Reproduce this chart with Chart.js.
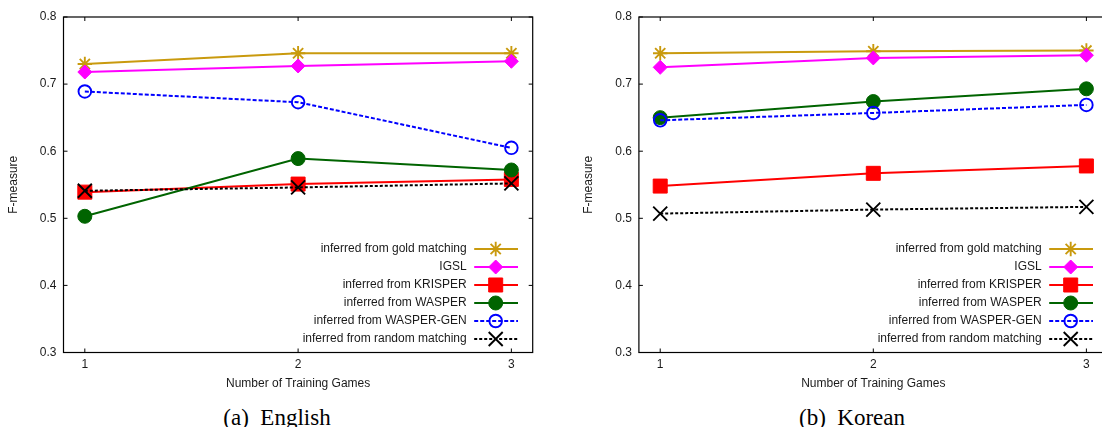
<!DOCTYPE html>
<html>
<head>
<meta charset="utf-8">
<script src="https://cdn.jsdelivr.net/npm/chart.js@4.4.1/dist/chart.umd.min.js"></script>
<style>
html, body { margin: 0; padding: 0; background: #fff; overflow: hidden; }
body { width: 1102px; height: 427px; position: relative; }
.panel { position: absolute; top: 0; width: 545px; height: 400px; }
.caption { position: absolute; top: 406px; font: 23px/23px 'Liberation Serif', 'Times New Roman', serif; white-space: pre; color: #000; transform: translateX(-50%); }
</style>
</head>
<body>
<div class="panel" style="left:0px"><canvas id="english"></canvas></div>
<div class="panel" style="left:575px"><canvas id="korean"></canvas></div>
<div class="caption" style="left:277px">(a)  English</div>
<div class="caption" style="left:852px">(b)  Korean</div>
<script>
// x values and tick labels
var games = [1, 2, 3];
var yTicks = [0.3, 0.4, 0.5, 0.6, 0.7, 0.8];
var seriesNames = ['inferred from gold matching', 'IGSL', 'inferred from KRISPER',
    'inferred from WASPER', 'inferred from WASPER-GEN', 'inferred from random matching'];

// (a) English
var engGold = [0.730, 0.746, 0.746];
var engIgsl = [0.718, 0.727, 0.734];
var engKrisper = [0.539, 0.551, 0.558];
var engWasper = [0.503, 0.589, 0.572];
var engWasperGen = [0.689, 0.673, 0.605];
var engRandom = [0.541, 0.546, 0.552];

// (b) Korean
var korGold = [0.746, 0.749, 0.750];
var korIgsl = [0.725, 0.739, 0.743];
var korKrisper = [0.548, 0.567, 0.578];
var korWasper = [0.650, 0.674, 0.693];
var korWasperGen = [0.646, 0.657, 0.669];
var korRandom = [0.507, 0.513, 0.517];

// gnuplot-ish line / point styles
var styles = [
    { color: '#c99a0e', pointStyle: 'star', radius: 7.2, width: 2, dash: [], pw: 1.9, filled: false },
    { color: '#ff00ff', pointStyle: 'rectRot', radius: 7, width: 2, dash: [], pw: 1, filled: true },
    { color: '#ff0000', pointStyle: 'rect', radius: 9.9, width: 2, dash: [], pw: 1, filled: true },
    { color: '#006400', pointStyle: 'circle', radius: 7, width: 2, dash: [], pw: 1, filled: true },
    { color: '#0000ff', pointStyle: 'circle', radius: 6.3, width: 2, dash: [4, 2], pw: 1.9, filled: false },
    { color: '#000000', pointStyle: 'crossRot', radius: 9.9, width: 2, dash: [3, 2], pw: 1.9, filled: false }
];

Chart.defaults.font.family = "'Liberation Sans', Arial, Helvetica, sans-serif";
Chart.defaults.font.size = 12;
Chart.defaults.color = '#1a1a1a';

function makeDatasets(lists) {
    return lists.map(function (vals, i) {
        var st = styles[i];
        return {
            label: seriesNames[i],
            data: games.map(function (g, j) { return { x: g, y: vals[j] }; }),
            borderColor: st.color,
            backgroundColor: st.color,
            borderWidth: st.width,
            borderDash: st.dash,
            pointStyle: st.pointStyle,
            pointRadius: st.radius,
            pointBorderWidth: st.pw,
            pointBorderColor: st.color,
            pointBackgroundColor: st.filled ? st.color : 'rgba(0,0,0,0)',
            order: lists.length - i,
            tension: 0
        };
    });
}

// box + inward ticks like gnuplot
var framePlugin = {
    id: 'frame',
    beforeDatasetsDraw: function (chart) {
        var ctx = chart.ctx, a = chart.chartArea;
        var xs = chart.scales.x, ys = chart.scales.y;
        ctx.save();
        ctx.strokeStyle = '#000';
        ctx.lineWidth = 1.2;
        ctx.strokeRect(a.left, a.top, a.right - a.left, a.bottom - a.top);
        ctx.lineWidth = 1;
        ctx.beginPath();
        yTicks.forEach(function (v) {
            var y = ys.getPixelForValue(v);
            ctx.moveTo(a.left, y); ctx.lineTo(a.left + 4, y);
            ctx.moveTo(a.right, y); ctx.lineTo(a.right - 4, y);
        });
        games.forEach(function (v) {
            var x = xs.getPixelForValue(v);
            ctx.moveTo(x, a.bottom); ctx.lineTo(x, a.bottom - 4);
            ctx.moveTo(x, a.top); ctx.lineTo(x, a.top + 4);
        });
        ctx.stroke();
        ctx.restore();
    }
};

// key in the lower right corner, text left of the sample
var keyPlugin = {
    id: 'key',
    afterDatasetsDraw: function (chart) {
        var ctx = chart.ctx, a = chart.chartArea;
        ctx.save();
        ctx.font = "12px 'Liberation Sans', Arial, sans-serif";
        ctx.textAlign = 'right';
        ctx.textBaseline = 'middle';
        chart.data.datasets.forEach(function (ds, i) {
            var st = styles[i];
            var y = a.bottom - 103.5 + i * 18;
            ctx.fillStyle = '#1a1a1a';
            ctx.fillText(ds.label, a.right - 66, y);
            ctx.strokeStyle = st.color;
            ctx.lineWidth = st.width;
            ctx.setLineDash(st.dash);
            ctx.beginPath();
            ctx.moveTo(a.right - 58.5, y);
            ctx.lineTo(a.right - 14.7, y);
            ctx.stroke();
            ctx.setLineDash([]);
            ctx.fillStyle = st.filled ? st.color : 'rgba(0,0,0,0)';
            ctx.lineWidth = st.pw;
            Chart.helpers.drawPoint(ctx, { pointStyle: st.pointStyle, radius: st.radius, rotation: 0, borderWidth: st.pw }, a.right - 37, y);
        });
        ctx.restore();
    }
};

function buildChart(id, lists, axisWidth) {
    return new Chart(document.getElementById(id), {
        type: 'line',
        data: { datasets: makeDatasets(lists) },
        options: {
            responsive: true,
            maintainAspectRatio: false,
            animation: false,
            layout: { padding: { top: 17, right: 12.3, left: 0, bottom: 0 } },
            plugins: { legend: { display: false }, tooltip: { enabled: false } },
            scales: {
                x: {
                    type: 'linear', min: 0.9, max: 3.1,
                    grid: { display: false, drawTicks: false },
                    border: { display: false },
                    afterBuildTicks: function (s) { s.ticks = games.map(function (v) { return { value: v }; }); },
                    afterFit: function (s) { s.height = 47.5; },
                    ticks: { padding: 5, callback: function (v) { return String(v); } },
                    title: { display: true, text: 'Number of Training Games', padding: { top: 0, bottom: 9 } }
                },
                y: {
                    min: 0.3, max: 0.8,
                    grid: { display: false, drawTicks: false },
                    border: { display: false },
                    afterBuildTicks: function (s) { s.ticks = yTicks.map(function (v) { return { value: v }; }); },
                    afterFit: function (s) { s.width = axisWidth; },
                    ticks: { padding: 7, callback: function (v) { return v.toFixed(1); } },
                    title: { display: true, text: 'F-measure', padding: { top: 6, bottom: 0 } }
                }
            }
        },
        plugins: [framePlugin, keyPlugin]
    });
}

buildChart('english', [engGold, engIgsl, engKrisper, engWasper, engWasperGen, engRandom], 63.5);
buildChart('korean', [korGold, korIgsl, korKrisper, korWasper, korWasperGen, korRandom], 63.9);
</script>
</body>
</html>
